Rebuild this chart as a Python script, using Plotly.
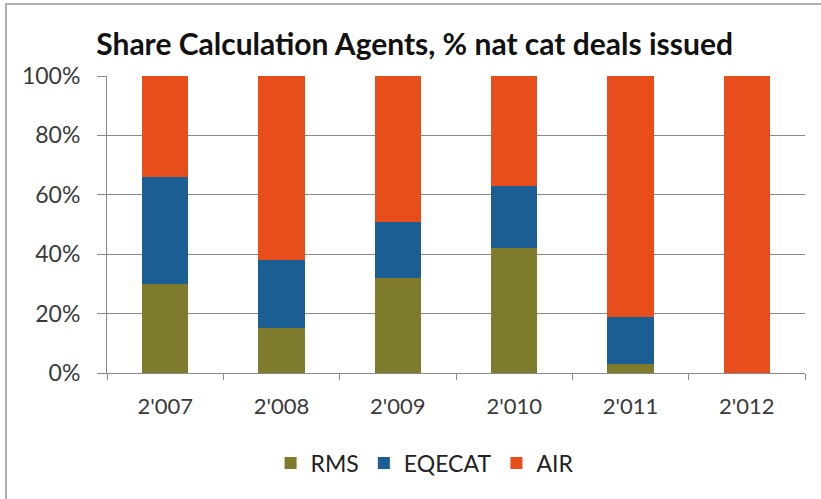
import plotly.graph_objects as go

years = ["2'007", "2'008", "2'009", "2'010", "2'011", "2'012"]
rms = [30, 15, 32, 42, 3, 0]
eqecat = [36, 23, 19, 21, 16, 0]
air = [34, 62, 49, 37, 81, 100]

colors = {"RMS": "#7E7B2C", "EQECAT": "#1A5E94", "AIR": "#E84E1C"}

L, R, T, B = 107, 16, 76, 126
W, H = 821, 499
pw, ph = W - L - R, H - T - B

fig = go.Figure()
for name, vals in [("RMS", rms), ("EQECAT", eqecat), ("AIR", air)]:
    fig.add_trace(go.Bar(x=years, y=vals, name=name, marker=dict(color=colors[name], line=dict(width=0))))

font = "Lato, 'Open Sans', sans-serif"
fig.update_layout(
    barmode="stack",
    bargap=0.6,
    width=W, height=H,
    margin=dict(l=L, r=R, t=T, b=B),
    paper_bgcolor="white", plot_bgcolor="white",
    title=dict(text="<b>Share Calculation Agents, % nat cat deals issued</b>",
               x=0.505, xanchor="center", y=1 - 44 / H, yanchor="middle",
               font=dict(family=font, size=30, color="#111111")),
    showlegend=True,
    legend=dict(orientation="h", x=0.455, xanchor="center", y=(T + ph - 463) / ph, yanchor="middle",
                font=dict(family=font, size=23, color="#222222"), traceorder="normal",
                itemwidth=30, bgcolor="rgba(0,0,0,0)"),
    xaxis=dict(showline=True, linecolor="#8a8a8a", linewidth=1, ticks="outside", tickson="boundaries",
               ticklen=6, tickcolor="#8a8a8a", tickfont=dict(family=font, size=22, color="#3a3a3a"),
               ticklabelstandoff=14, showgrid=False),
    yaxis=dict(range=[0, 100], tickvals=[0, 20, 40, 60, 80, 100], ticktext=["0%", "20%", "40%", "60%", "80%", "100%"],
               showline=True, linecolor="#8a8a8a", linewidth=1, ticks="outside", ticklen=9, tickcolor="#8a8a8a",
               showgrid=True, gridcolor="#8a8a8a", gridwidth=1, zeroline=False, ticklabelstandoff=12,
               tickfont=dict(family=font, size=23, color="#3a3a3a")),
    shapes=[dict(type="rect", xref="paper", yref="paper",
                 x0=(6 - L) / pw, x1=(840 - L) / pw, y0=(T + ph - 520) / ph, y1=(T + ph - 4) / ph,
                 line=dict(color="#b0b0b0", width=2), fillcolor="rgba(0,0,0,0)", layer="below")],
)
fig.write_html("out.html")
